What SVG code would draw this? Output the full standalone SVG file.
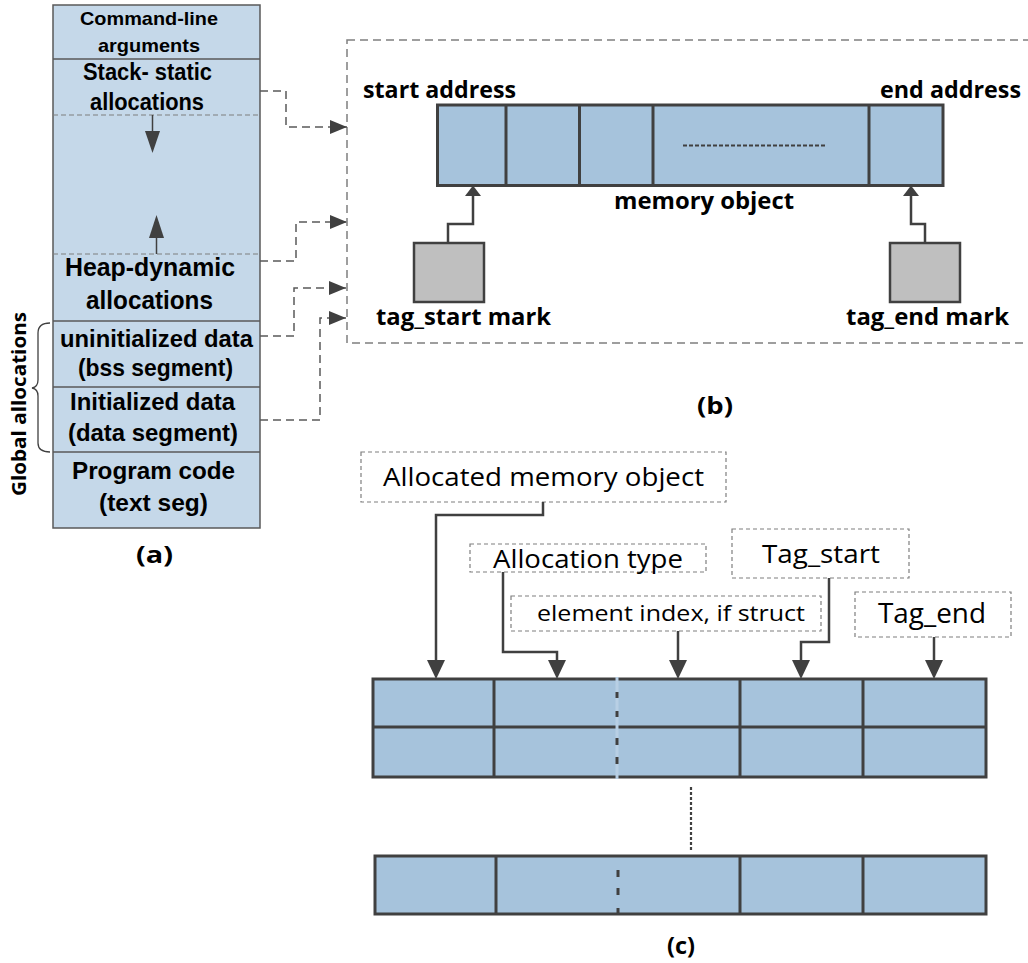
<svg xmlns="http://www.w3.org/2000/svg" width="1028" height="963" viewBox="0 0 1028 963">
<style>
  text { font-family: "Open Sans", "Liberation Sans", sans-serif; fill: #000; }
  .seg { font-family: "Liberation Sans", "Open Sans", sans-serif; }
  .b { font-weight: bold; }
  .n { font-weight: normal; }
  .segbox { fill: #c5d8e9; stroke: #595959; stroke-width: 1.5; }
  .solidsep { stroke: #595959; stroke-width: 1.5; fill: none; }
  .dashsep { stroke: #7f7f7f; stroke-width: 1.2; stroke-dasharray: 5 3; fill: none; }
  .dconn { stroke: #595959; stroke-width: 1.5; stroke-dasharray: 8 5; fill: none; }
  .frame { stroke: #7f7f7f; stroke-width: 1.5; stroke-dasharray: 8 5; fill: none; }
  .cell { fill: #a6c3dc; stroke: #404040; stroke-width: 3; }
  .sep { stroke: #404040; stroke-width: 3; fill: none; }
  .tagbox { fill: #bfbfbf; stroke: #404040; stroke-width: 2.5; }
  .conn { stroke: #404040; stroke-width: 2.5; fill: none; }
  .head { fill: #404040; stroke: none; }
  .lbox { fill: #fff; stroke: #7f7f7f; stroke-width: 1.2; stroke-dasharray: 4 3; }
</style>
<defs>
  <marker id="dah" markerUnits="userSpaceOnUse" markerWidth="17" markerHeight="14" viewBox="0 0 17 14" refX="17" refY="7" orient="auto">
    <path d="M0,0 L17,7 L0,14 z" fill="#404040"/>
  </marker>
</defs>

<!-- Panel (a): memory layout -->
<g id="memory-layout">
  <rect class="segbox" x="53" y="5" width="207" height="523"/>
  <line class="solidsep" x1="53" y1="59" x2="260" y2="59"/>
  <line class="dashsep" x1="53" y1="115" x2="260" y2="115"/>
  <line class="dashsep" x1="53" y1="254" x2="260" y2="254"/>
  <line class="solidsep" x1="53" y1="321" x2="260" y2="321"/>
  <line class="solidsep" x1="53" y1="387" x2="260" y2="387"/>
  <line class="solidsep" x1="53" y1="452" x2="260" y2="452"/>
  <line x1="152.5" y1="115" x2="152.5" y2="132" stroke="#404040" stroke-width="1.5"/>
  <polygon class="head" points="145,131 160,131 152.5,153"/>
  <line x1="156.5" y1="237" x2="156.5" y2="254" stroke="#404040" stroke-width="1.5"/>
  <polygon class="head" points="149,238 164,238 156.5,215"/>
</g>
<g id="seg-cmdline">
  <text class="b seg" x="80" y="25" font-size="19" textLength="138" lengthAdjust="spacingAndGlyphs">Command-line</text>
  <text class="b seg" x="98" y="52" font-size="19" textLength="102" lengthAdjust="spacingAndGlyphs">arguments</text>
</g>
<g id="seg-stack">
  <text class="b seg" x="83" y="80" font-size="23" textLength="129" lengthAdjust="spacingAndGlyphs">Stack- static</text>
  <text class="b seg" x="90" y="110" font-size="23" textLength="114" lengthAdjust="spacingAndGlyphs">allocations</text>
</g>
<g id="seg-heap">
  <text class="b seg" x="65" y="276" font-size="26" textLength="170" lengthAdjust="spacingAndGlyphs">Heap-dynamic</text>
  <text class="b seg" x="86" y="309" font-size="26" textLength="127" lengthAdjust="spacingAndGlyphs">allocations</text>
</g>
<g id="seg-bss">
  <text class="b seg" x="60" y="347" font-size="24" textLength="193" lengthAdjust="spacingAndGlyphs">uninitialized data</text>
  <text class="b seg" x="78" y="376" font-size="24" textLength="155" lengthAdjust="spacingAndGlyphs">(bss segment)</text>
</g>
<g id="seg-data">
  <text class="b seg" x="70" y="410" font-size="24" textLength="165" lengthAdjust="spacingAndGlyphs">Initialized data</text>
  <text class="b seg" x="68" y="441" font-size="24" textLength="170" lengthAdjust="spacingAndGlyphs">(data segment)</text>
</g>
<g id="seg-text">
  <text class="b seg" x="72" y="479" font-size="24" textLength="163" lengthAdjust="spacingAndGlyphs">Program code</text>
  <text class="b seg" x="99" y="511" font-size="24" textLength="109" lengthAdjust="spacingAndGlyphs">(text seg)</text>
</g>
<g id="label-a">
  <text class="b" x="136" y="563" font-size="24" textLength="37" lengthAdjust="spacingAndGlyphs">(a)</text>
</g>
<g id="global-brace">
  <path d="M50,323 Q38,323 38,333 L38,380 Q38,387 32,388 Q38,389 38,396 L38,443 Q38,452 50,452" fill="none" stroke="#404040" stroke-width="1.3"/>
  <text class="b" transform="translate(26,496) rotate(-90)" x="0" y="0" font-size="19" textLength="184" lengthAdjust="spacingAndGlyphs">Global allocations</text>
</g>

<!-- Panel (b) -->
<g id="panel-b-frame">
  <rect class="frame" x="347" y="40" width="700" height="303"/>
</g>
<g id="memory-object">
  <rect class="cell" x="437.5" y="105" width="505.5" height="80.5"/>
  <line class="sep" x1="506" y1="105" x2="506" y2="185.5"/>
  <line class="sep" x1="579.5" y1="105" x2="579.5" y2="185.5"/>
  <line class="sep" x1="653" y1="105" x2="653" y2="185.5"/>
  <line class="sep" x1="869" y1="105" x2="869" y2="185.5"/>
  <line x1="683" y1="145.5" x2="826" y2="145.5" stroke="#404040" stroke-width="2" stroke-dasharray="4 2"/>
  <text class="b" x="614" y="209" font-size="24" textLength="180" lengthAdjust="spacingAndGlyphs">memory object</text>
</g>
<g id="start-address">
  <text class="b" x="363" y="98" font-size="23" textLength="153" lengthAdjust="spacingAndGlyphs">start address</text>
</g>
<g id="end-address">
  <text class="b" x="880" y="98" font-size="23" textLength="141" lengthAdjust="spacingAndGlyphs">end address</text>
</g>
<g id="tag-start-mark">
  <rect class="tagbox" x="414" y="243" width="70" height="59"/>
  <text class="b" x="376" y="325" font-size="24" textLength="175" lengthAdjust="spacingAndGlyphs">tag_start mark</text>
</g>
<g id="tag-end-mark">
  <rect class="tagbox" x="890" y="243" width="70" height="59"/>
  <text class="b" x="846" y="325" font-size="24" textLength="163" lengthAdjust="spacingAndGlyphs">tag_end mark</text>
</g>
<g id="label-b">
  <text class="b" x="697" y="414" font-size="24" textLength="36" lengthAdjust="spacingAndGlyphs">(b)</text>
</g>

<!-- Panel (c) -->
<g id="lbl-allocated">
  <rect class="lbox" x="361" y="452" width="365" height="50"/>
  <text class="n" x="383" y="486" font-size="26" textLength="321" lengthAdjust="spacingAndGlyphs">Allocated memory object</text>
</g>
<g id="lbl-alloc-type">
  <rect class="lbox" x="470" y="544" width="236" height="28"/>
  <text class="n" x="493" y="568" font-size="26" textLength="190" lengthAdjust="spacingAndGlyphs">Allocation type</text>
</g>
<g id="lbl-elem-index">
  <rect class="lbox" x="511" y="596" width="310" height="35"/>
  <text class="n" x="537" y="621" font-size="22" textLength="268" lengthAdjust="spacingAndGlyphs">element index, if struct</text>
</g>
<g id="lbl-tag-start">
  <rect class="lbox" x="732" y="529" width="177" height="49"/>
  <text class="n" x="762" y="563" font-size="26" textLength="118" lengthAdjust="spacingAndGlyphs">Tag_start</text>
</g>
<g id="lbl-tag-end">
  <rect class="lbox" x="855" y="592" width="156" height="45"/>
  <text class="n" x="878" y="623" font-size="27" textLength="108" lengthAdjust="spacingAndGlyphs">Tag_end</text>
</g>
<g id="table-rows">
  <rect class="cell" x="373" y="679" width="613" height="98"/>
  <line class="sep" x1="373" y1="727" x2="986" y2="727"/>
  <line class="sep" x1="494" y1="679" x2="494" y2="777"/>
  <line class="sep" x1="740" y1="679" x2="740" y2="777"/>
  <line class="sep" x1="863" y1="679" x2="863" y2="777"/>
  <line x1="617" y1="677" x2="617" y2="779" stroke="#b8cfe4" stroke-width="3"/>
  <path d="M617,692 V698 M617,711 V717 M617,738 V745 M617,757 V764" stroke="#404040" stroke-width="3" fill="none"/>
  <line x1="691" y1="787" x2="691" y2="852" stroke="#404040" stroke-width="2.2" stroke-dasharray="3 2"/>
  <rect class="cell" x="375" y="856" width="611" height="58"/>
  <line class="sep" x1="496" y1="856" x2="496" y2="914"/>
  <line class="sep" x1="740" y1="856" x2="740" y2="914"/>
  <line class="sep" x1="863" y1="856" x2="863" y2="914"/>
  <path d="M618,870 V877 M618,888 V895 M618,908 V914" stroke="#404040" stroke-width="3" fill="none"/>
</g>
<g id="label-c">
  <text class="b" x="667" y="954" font-size="24" textLength="28" lengthAdjust="spacingAndGlyphs">(c)</text>
</g>

<!-- Connectors -->
<g id="connectors">
  <path class="dconn" d="M260,91 H286 V127 H347" marker-end="url(#dah)"/>
  <path class="dconn" d="M260,261 H296 V222 H347" marker-end="url(#dah)"/>
  <path class="dconn" d="M260,336 H294 V288 H346" marker-end="url(#dah)"/>
  <path class="dconn" d="M260,420 H320 V318 H346" marker-end="url(#dah)"/>

  <path class="conn" d="M448,243 V224 H473 V196"/>
  <polygon class="head" points="465,196 481,196 473,185.5"/>
  <path class="conn" d="M925,243 V224 H911 V196"/>
  <polygon class="head" points="903,196 919,196 911,185.5"/>

  <path class="conn" d="M543,502 V515 H436 V661"/>
  <polygon class="head" points="427,660 445,660 436,679"/>
  <path class="conn" d="M503,572 V652 H557 V661"/>
  <polygon class="head" points="548,660 566,660 557,679"/>
  <path class="conn" d="M678,631 V661"/>
  <polygon class="head" points="669,660 687,660 678,679"/>
  <path class="conn" d="M829,578 V642 H801 V661"/>
  <polygon class="head" points="792,660 810,660 801,679"/>
  <path class="conn" d="M934,637 V661"/>
  <polygon class="head" points="925,660 943,660 934,679"/>
</g>
</svg>
